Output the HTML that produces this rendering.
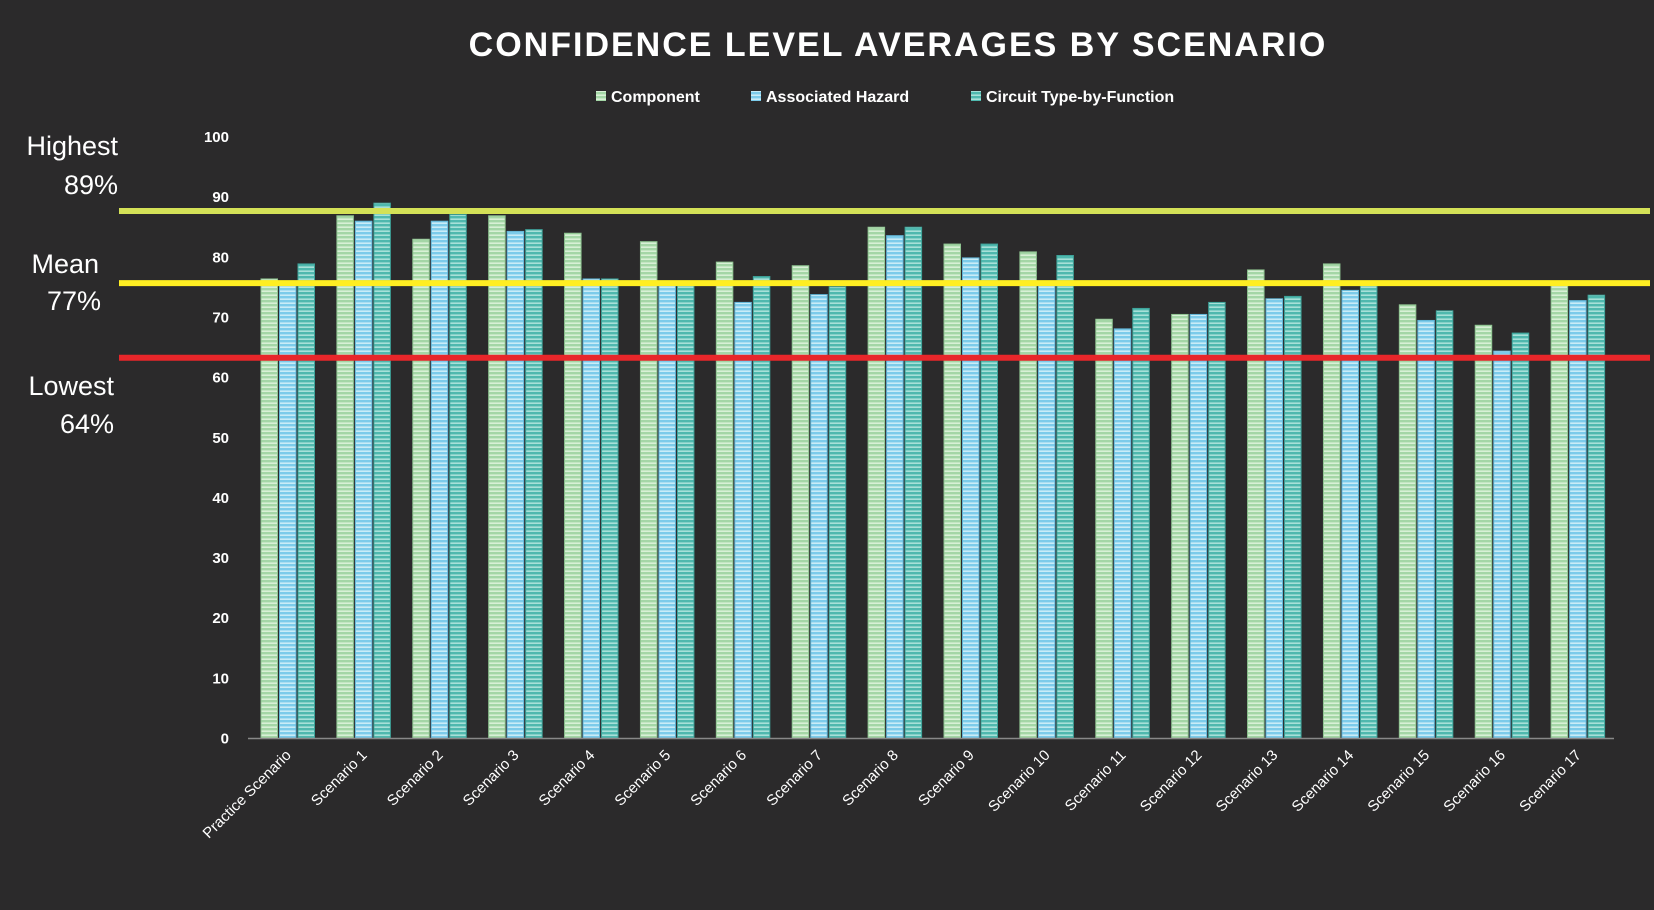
<!DOCTYPE html>
<html><head><meta charset="utf-8"><style>
html,body{margin:0;padding:0;background:#2b2a2b;}
svg{display:block;font-family:"Liberation Sans",sans-serif;}
</style></head><body>
<svg id="chart" width="1654" height="910" viewBox="0 0 1654 910">
<defs>
<pattern id="pg" width="4" height="4" patternUnits="userSpaceOnUse"><rect width="4" height="4" fill="#a4d6a6"/><rect y="2.4" width="4" height="1.6" fill="#d8f0d6"/></pattern>
<pattern id="pb" width="4" height="4" patternUnits="userSpaceOnUse"><rect width="4" height="4" fill="#7ccbea"/><rect y="2.4" width="4" height="1.6" fill="#c9ecf7"/></pattern>
<pattern id="pt" width="4" height="4" patternUnits="userSpaceOnUse"><rect width="4" height="4" fill="#4fb8ae"/><rect y="2.4" width="4" height="1.6" fill="#a7e0d8"/></pattern>
</defs>
<rect width="1654" height="910" fill="#2b2a2b"/>
<text x="898" y="56" text-anchor="middle" fill="#fff" font-size="34" font-weight="bold" letter-spacing="2">CONFIDENCE LEVEL AVERAGES BY SCENARIO</text>
<g font-size="16" font-weight="bold" fill="#fff">
<g><rect x="596" y="91" width="10" height="10" fill="url(#pg)"/><text x="611" y="102">Component</text></g>
<g><rect x="751" y="91" width="10" height="10" fill="url(#pb)"/><text x="766" y="102">Associated Hazard</text></g>
<g><rect x="971" y="91" width="10" height="10" fill="url(#pt)"/><text x="986" y="102">Circuit Type-by-Function</text></g>
</g>
<g id="yaxis"></g>
<g id="bars"></g>
<line x1="248" y1="738.5" x2="1614" y2="738.5" stroke="#888" stroke-width="1.5"/>
<g id="xlabels"></g>
<g id="refs"></g>
<g fill="#fff" font-size="27" text-anchor="end">
<text x="118" y="155">Highest</text>
<text x="118" y="194">89%</text>
<text x="99" y="273">Mean</text>
<text x="101" y="310">77%</text>
<text x="114" y="395">Lowest</text>
<text x="114" y="433">64%</text>
</g>
</svg>
<script>
const categories=["Practice Scenario","Scenario 1","Scenario 2","Scenario 3","Scenario 4","Scenario 5","Scenario 6","Scenario 7","Scenario 8","Scenario 9","Scenario 10","Scenario 11","Scenario 12","Scenario 13","Scenario 14","Scenario 15","Scenario 16","Scenario 17"];
const component=[76.4,86.9,83.0,86.9,84.0,82.6,79.2,78.6,85.0,82.2,80.9,69.7,70.5,77.9,78.9,72.1,68.7,75.7];
const hazard=[75.8,86.0,86.0,84.3,76.4,75.6,72.5,73.8,83.6,79.9,75.6,68.1,70.5,73.1,74.5,69.5,64.4,72.8];
const circuit=[78.9,89.0,87.1,84.6,76.4,75.6,76.8,75.1,85.0,82.2,80.3,71.5,72.5,73.5,75.3,71.1,67.4,73.7];
const yTicks=[0,10,20,30,40,50,60,70,80,90,100];
const refValues=[87.7,75.7,63.3];
const NS="http://www.w3.org/2000/svg";
const y=v=>738.5-6.015*v;
const x0=248, gw=(1614-248)/18;
function mk(t,a,p){const e=document.createElementNS(NS,t);for(const k in a)e.setAttribute(k,a[k]);p.appendChild(e);return e;}
const ya=document.getElementById('yaxis');
yTicks.forEach(v=>{const t=mk('text',{x:229,y:y(v)+5,'text-anchor':'end',fill:'#fff','font-size':15,'font-weight':'bold'},ya);t.textContent=v;

});
const bg=document.getElementById('bars');
const series=[[component,'url(#pg)','#8fc491','component'],[hazard,'url(#pb)','#62b5d6','hazard'],[circuit,'url(#pt)','#3ea39a','circuit']];
categories.forEach((c,i)=>{series.forEach((s,j)=>{const v=s[0][i];const bx=x0+gw*i+13+j*18.5;
const r=mk('rect',{x:bx,y:y(v),width:16.5,height:738.5-y(v),fill:s[1],stroke:s[2],'stroke-width':1},bg);

});
const cx=x0+gw*i+gw/2+6;const t=mk('text',{x:cx,y:756,'text-anchor':'end',fill:'#fff','font-size':15,transform:'rotate(-45 '+cx+' 756)'},document.getElementById('xlabels'));t.textContent=c;

});
const rg=document.getElementById('refs');const rc=['#d4e157','#ffee22','#e8262a'];const rn=['highest-line','mean-line','lowest-line'];
refValues.forEach((v,i)=>{const l=mk('line',{x1:119,x2:1650,y1:y(v),y2:y(v),stroke:rc[i],'stroke-width':6},rg);

});
</script>
</body></html>
